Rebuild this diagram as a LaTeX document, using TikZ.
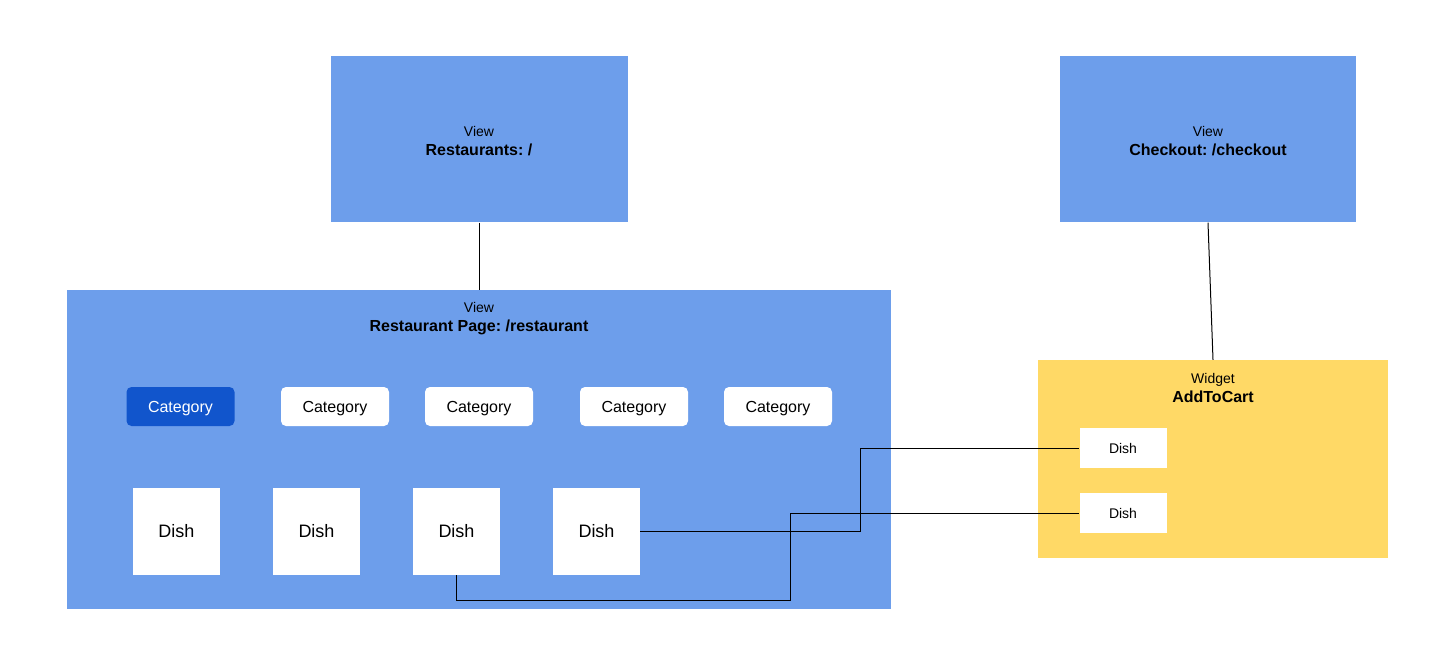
\documentclass[tikz,border=0pt]{standalone}
\usepackage{fontspec}
\setmainfont{Liberation Sans}
\frenchspacing
\definecolor{viewblue}{HTML}{6D9EEB}
\definecolor{darkblue}{HTML}{1155CC}
\definecolor{widgetyellow}{HTML}{FFD966}
\tikzset{
  viewbox/.style={rectangle, fill=viewblue, inner sep=0pt},
  titletext/.style={align=center, inner sep=0pt, font=\fontsize{14}{19}\selectfont},
  catbox/.style={rectangle, rounded corners=5pt, fill=white, minimum width=108pt, minimum height=39pt, inner sep=0pt, text height=11.5pt, text depth=0pt, font=\fontsize{16}{19}\selectfont},
  catsel/.style={catbox, fill=darkblue, text=white},
  dishbig/.style={rectangle, fill=white, minimum width=87pt, minimum height=87pt, inner sep=0pt, font=\fontsize{18}{21}\selectfont},
  dishsmall/.style={rectangle, fill=white, minimum width=87pt, minimum height=40pt, inner sep=0pt, font=\fontsize{14}{17}\selectfont},
  conn/.style={draw=black, line width=1pt}
}
\begin{document}
\begin{tikzpicture}[x=1pt,y=-1pt]
\useasboundingbox (0,0) rectangle (1455,668);
\fill[white] (0,0) rectangle (1455,668);
% top views
\node[viewbox, minimum width=297pt, minimum height=166pt] (rest) at (479,139.5) {};
\node[titletext] (restT) at (479,141) {View\\{\fontsize{16}{19}\selectfont\bfseries Restaurants: /}};
\node[viewbox, minimum width=296pt, minimum height=166pt] (chk) at (1208,139.5) {};
\node[titletext] (chkT) at (1208,141) {View\\{\fontsize{16}{19}\selectfont\bfseries Checkout: /checkout}};
% restaurant page
\node[viewbox, minimum width=824pt, minimum height=319pt] (rp) at (479,449.5) {};
\node[titletext] (rpT) at (479,319) {View\\{\fontsize{16}{19}\selectfont\bfseries Restaurant Page: /restaurant}};
% widget
\node[rectangle, fill=widgetyellow, inner sep=0pt, minimum width=350pt, minimum height=197.5pt] (wg) at (1213,458.75) {};
\node[titletext] (wgT) at (1213,388.5) {Widget\\{\fontsize{16}{19}\selectfont\bfseries AddToCart}};
% categories
\node[catsel] (c1) at (180.5,406.5) {Category};
\node[catbox] (c2) at (335,406.5) {Category};
\node[catbox] (c3) at (479,406.5) {Category};
\node[catbox] (c4) at (634,406.5) {Category};
\node[catbox] (c5) at (778,406.5) {Category};
% dishes
\node[dishbig] (d1) at (176.5,531.5) {Dish};
\node[dishbig] (d2) at (316.5,531.5) {Dish};
\node[dishbig] (d3) at (456.5,531.5) {Dish};
\node[dishbig] (d4) at (596.5,531.5) {Dish};
\node[dishsmall] (s1) at (1123,448.3) {Dish};
\node[dishsmall] (s2) at (1123,513.3) {Dish};
% connectors
\draw[conn] (rest.south) -- (rp.north);
\draw[conn] (chk.south) -- (wg.north);
\coordinate (j1) at (860,448);
\coordinate (j2) at (790.5,600);
\draw[conn] (d4.east) -- (d4.east -| j1) |- (s1.west);
\draw[conn] (d3.south) |- (j2) |- (s2.west);
\end{tikzpicture}
\end{document}
